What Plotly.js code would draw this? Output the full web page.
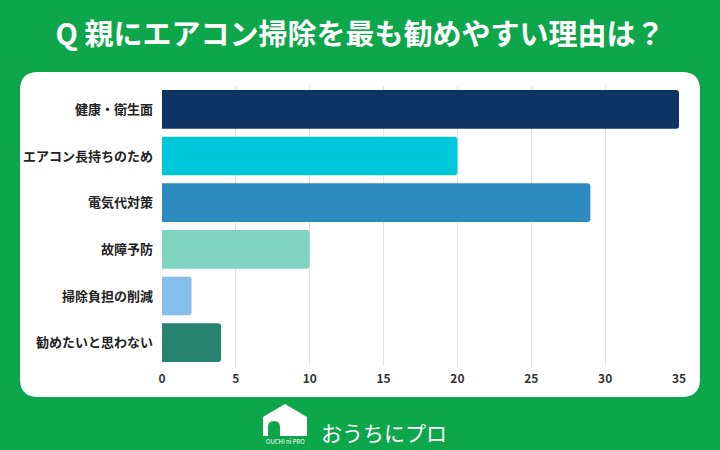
<!DOCTYPE html>
<html><head><meta charset="utf-8">
<script src="https://cdn.plot.ly/plotly-3.0.1.min.js"></script>
<style>body{margin:0;background:#0DA64A}#c{width:720px;height:450px}</style>
</head><body><div id="c"></div>
<script>
const categories = ["健康・衛生面","エアコン長持ちのため","電気代対策","故障予防","掃除負担の削減","勧めたいと思わない"];
const values = [35, 20, 29, 10, 2, 4];
const barColors = ["#0E3466","#00C8DB","#2E8BC0","#7FD5C1","#86BEEA","#27836F"];
const xTicks = [0,5,10,15,20,25,30,35];

const W=720,H=450,L=162,R=41,T=86,B=84;
const pw=W-L-R, ph=H-T-B;
const px=x=>(x-L)/pw, py=y=>(H-B-y)/ph;
function P(x,y){return px(x).toFixed(5)+","+py(y).toFixed(5);}
function roundRect(x0,y0,x1,y1,r){
  return "M"+P(x0+r,y0)+" L"+P(x1-r,y0)+" Q"+P(x1,y0)+" "+P(x1,y0+r)+
   " L"+P(x1,y1-r)+" Q"+P(x1,y1)+" "+P(x1-r,y1)+" L"+P(x0+r,y1)+
   " Q"+P(x0,y1)+" "+P(x0,y1-r)+" L"+P(x0,y0+r)+" Q"+P(x0,y0)+" "+P(x0+r,y0)+" Z";
}
const house = "M"+P(285,404)+" L"+P(307,417)+" L"+P(307,436)+" L"+P(263,436)+" L"+P(263,417)+" Z";
const door = "M"+P(268,436)+" L"+P(268,427)+" Q"+P(268,421)+" "+P(274,421)+" Q"+P(280,421)+" "+P(280,427)+" L"+P(280,436)+" Z";

const font="'Noto Sans CJK JP', 'Noto Sans', sans-serif";
const trace={type:"bar",orientation:"h",y:categories,x:values,
  marker:{color:barColors,cornerradius:3},width:0.83,hoverinfo:"none"};
const layout={
  width:W,height:H,margin:{l:L,r:R,t:T,b:B},
  paper_bgcolor:"#0DA64A",plot_bgcolor:"rgba(0,0,0,0)",
  font:{family:font},
  title:{text:"<b>Q 親にエアコン掃除を最も勧めやすい理由は？</b>",font:{family:font,size:29,color:"#fff"},
    x:0.5,xanchor:"center",xref:"container",y:1-35/H,yref:"container",yanchor:"middle"},
  xaxis:{range:[0,35],tickvals:xTicks,showgrid:true,gridcolor:"#E3E3E3",gridwidth:1,zeroline:false,
    showline:false,ticks:"",tickfont:{size:12,color:"#333",family:font,weight:"bold"},ticklabelstandoff:4,fixedrange:true},
  yaxis:{autorange:"reversed",showgrid:false,zeroline:false,ticks:"",showline:false,
    tickfont:{size:13,color:"#222",family:font,weight:"bold"},ticklabelstandoff:8,fixedrange:true},
  showlegend:false,
  shapes:[
    {type:"path",xref:"paper",yref:"paper",path:roundRect(20,72,700,397,18),fillcolor:"#ffffff",line:{width:0},layer:"below"},
    {type:"path",xref:"paper",yref:"paper",path:house,fillcolor:"#ffffff",line:{width:0},layer:"above"},
    {type:"path",xref:"paper",yref:"paper",path:door,fillcolor:"#0DA64A",line:{width:0},layer:"above"}
  ],
  annotations:[
    {text:"おうちにプロ",xref:"paper",yref:"paper",x:px(319),y:py(432),xanchor:"left",yanchor:"middle",showarrow:false,
     font:{family:font,size:21,color:"#fff"}},
    {text:"OUCHI ni PRO",xref:"paper",yref:"paper",x:px(285),y:py(441),xanchor:"center",yanchor:"middle",showarrow:false,
     font:{family:font,size:6,color:"#fff"}}
  ]
};
Plotly.newPlot("c",[trace],layout,{displayModeBar:false,staticPlot:true});
</script></body></html>
